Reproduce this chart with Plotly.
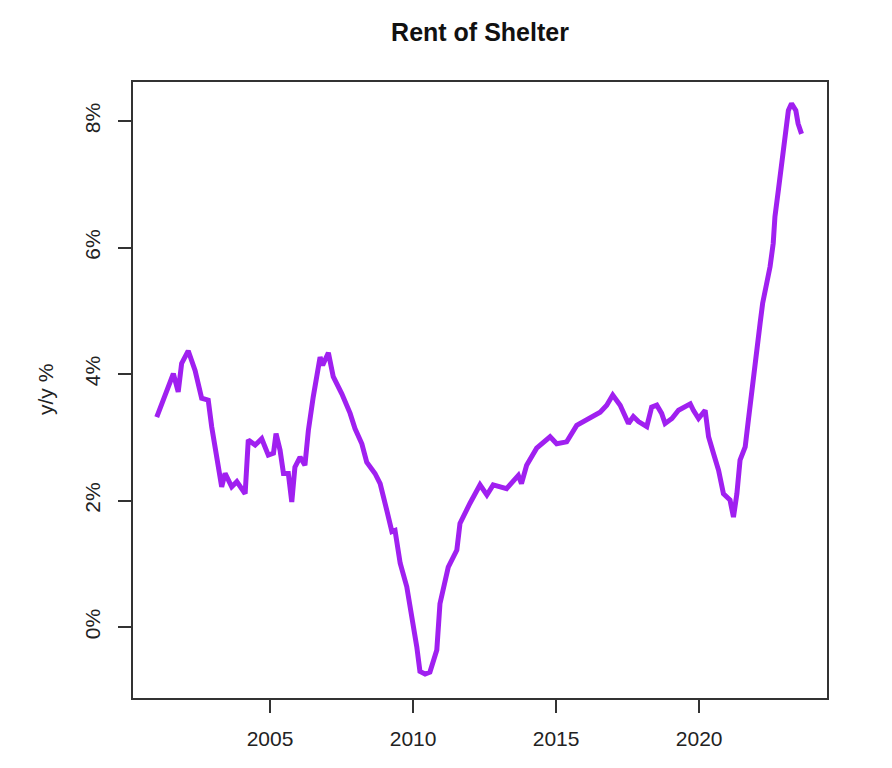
import plotly.graph_objects as go

# Decimal-year dates and y/y % change of Rent of Shelter
dates = [
    2001.04, 2001.33, 2001.50, 2001.62, 2001.79, 2001.91, 2002.14, 2002.38, 2002.61, 2002.84,
    2002.96, 2003.19, 2003.31, 2003.43, 2003.66, 2003.84, 2004.13, 2004.24, 2004.48, 2004.71,
    2004.94, 2005.12, 2005.21, 2005.35, 2005.47, 2005.64, 2005.76, 2005.87, 2006.05, 2006.22,
    2006.34, 2006.51, 2006.75, 2006.84, 2007.04, 2007.21, 2007.51, 2007.80, 2007.97, 2008.21,
    2008.38, 2008.67, 2008.85, 2009.08, 2009.26, 2009.37, 2009.55, 2009.78, 2009.95, 2010.13,
    2010.24, 2010.42, 2010.59, 2010.83, 2010.94, 2011.23, 2011.53, 2011.64, 2011.99, 2012.34,
    2012.58, 2012.80, 2013.27, 2013.68, 2013.79, 2013.97, 2014.32, 2014.79, 2015.02, 2015.37,
    2015.72, 2016.19, 2016.54, 2016.77, 2016.98, 2017.24, 2017.53, 2017.70, 2017.88, 2018.17,
    2018.34, 2018.52, 2018.69, 2018.81, 2019.05, 2019.28, 2019.51, 2019.69, 2019.80, 2019.98,
    2020.21, 2020.33, 2020.50, 2020.68, 2020.85, 2021.08, 2021.20, 2021.32, 2021.43, 2021.61,
    2021.72, 2021.84, 2021.96, 2022.13, 2022.22, 2022.36, 2022.48, 2022.59, 2022.65, 2022.77,
    2022.88, 2023.00, 2023.12, 2023.23, 2023.38, 2023.46, 2023.58,
]
values = [
    3.32, 3.69, 3.85, 4.01, 3.72, 4.17, 4.37, 4.06, 3.62, 3.59,
    3.17, 2.53, 2.22, 2.43, 2.22, 2.30, 2.11, 2.96, 2.88, 2.98,
    2.72, 2.75, 3.06, 2.80, 2.43, 2.43, 1.98, 2.53, 2.69, 2.56,
    3.11, 3.64, 4.27, 4.14, 4.34, 3.96, 3.69, 3.38, 3.14, 2.90,
    2.61, 2.43, 2.27, 1.85, 1.51, 1.53, 1.01, 0.64, 0.22, -0.31,
    -0.70, -0.74, -0.71, -0.36, 0.37, 0.95, 1.22, 1.64, 1.96, 2.25,
    2.09, 2.25, 2.19, 2.40, 2.27, 2.56, 2.83, 3.01, 2.90, 2.93,
    3.19, 3.30, 3.40, 3.51, 3.67, 3.51, 3.22, 3.33, 3.25, 3.17,
    3.48, 3.51, 3.38, 3.22, 3.30, 3.43, 3.48, 3.53, 3.43, 3.30,
    3.43, 3.01, 2.75, 2.48, 2.11, 2.01, 1.74, 2.11, 2.64, 2.85,
    3.27, 3.75, 4.27, 4.80, 5.12, 5.43, 5.70, 6.07, 6.49, 6.91,
    7.33, 7.80, 8.17, 8.28, 8.17, 7.96, 7.80,
]

x_ticks = [2005, 2010, 2015, 2020]
y_ticks = [0, 2, 4, 6, 8]
y_tick_labels = ["0%", "2%", "4%", "6%", "8%"]
title_text = "Rent of Shelter"
y_title = "y/y %"

FONT = "Liberation Sans, Arial, sans-serif"

fig = go.Figure()
fig.add_trace(go.Scatter(
    x=dates, y=values, mode="lines",
    line=dict(color="#A020F0", width=5),
    showlegend=False,
))

W, H = 892, 768
L, R, T, B = 133, 65, 82, 70

fig.update_layout(
    width=W, height=H,
    margin=dict(l=L, r=R, t=T, b=B),
    paper_bgcolor="white", plot_bgcolor="white",
    font=dict(family=FONT, size=21, color="#222222"),
    title=dict(
        text="<b>" + title_text + "</b>",
        font=dict(family=FONT, size=25, color="#111111"),
        x=0.5, xref="paper", xanchor="center",
        y=1 - 32 / H, yref="container", yanchor="middle",
    ),
    xaxis=dict(
        range=[2000.21, 2024.47],
        tickmode="array", tickvals=x_ticks,
        ticks="outside", ticklen=13, tickwidth=1.5, tickcolor="#333333",
        showgrid=False, zeroline=False,
        showline=True, linecolor="#333333", linewidth=1.5, mirror=True,
        ticklabelstandoff=8,
        tickfont=dict(family=FONT, size=21, color="#222222"),
    ),
    yaxis=dict(
        range=[-1.12, 8.62],
        tickmode="array", tickvals=y_ticks, ticktext=y_tick_labels,
        tickangle=-90,
        ticks="outside", ticklen=13, tickwidth=1.5, tickcolor="#333333",
        showgrid=False, zeroline=False,
        showline=True, linecolor="#333333", linewidth=1.5, mirror=True,
        ticklabelstandoff=10,
        tickfont=dict(family=FONT, size=21, color="#222222"),
    ),
)

fig.add_annotation(
    text=y_title, textangle=-90,
    xref="paper", yref="paper",
    x=(45 - L) / (W - L - R), y=0.5,
    xanchor="center", yanchor="middle",
    showarrow=False,
    font=dict(family=FONT, size=21, color="#222222"),
)

fig.write_html("out.html")
